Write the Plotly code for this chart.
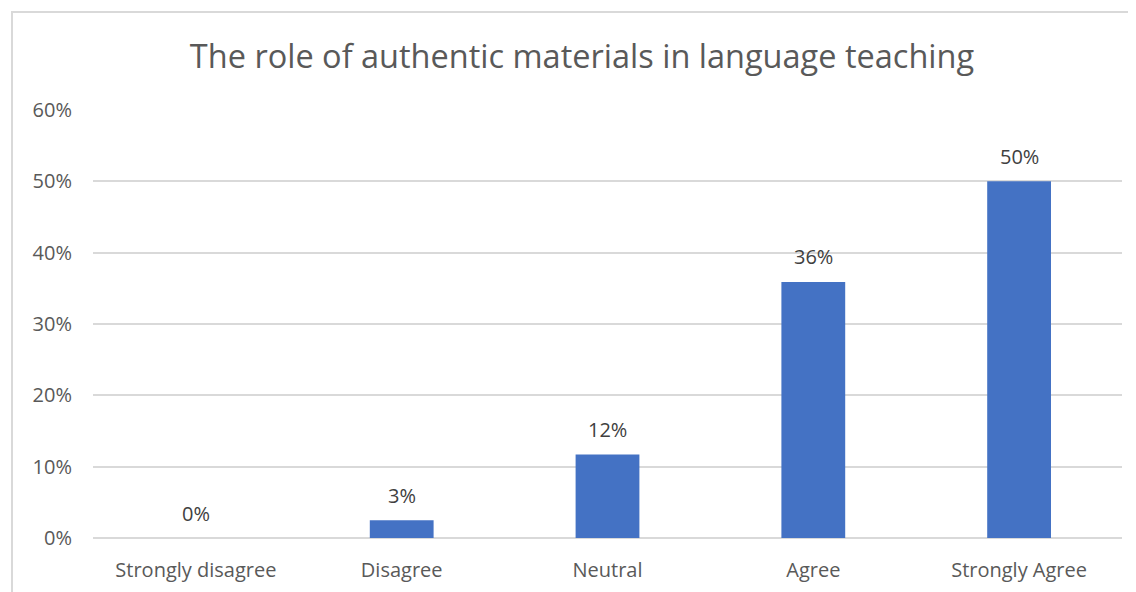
import plotly.graph_objects as go

categories = ["Strongly disagree", "Disagree", "Neutral", "Agree", "Strongly Agree"]
values = [0.0, 2.5, 11.7, 35.9, 50.0]
value_labels = ["0%", "3%", "12%", "36%", "50%"]
tick_vals = [0, 10, 20, 30, 40, 50, 60]
tick_text = ["0%", "10%", "20%", "30%", "40%", "50%", "60%"]

FONT = "Open Sans"
OFF = 8  # default page body margin

W, H = 1136 - OFF, 592 - OFF
L, R, T, B = 93 - OFF, 14, 110 - OFF, 54
pw, ph = W - L - R, H - T - B

fig = go.Figure()
fig.add_trace(go.Bar(
    x=categories, y=values,
    marker=dict(color="#4472C4", line=dict(width=0)),
    hoverinfo="skip",
))

annotations = [
    dict(x=c, y=v, xref="x", yref="y", text=t, showarrow=False,
         yanchor="middle", yshift=25,
         font=dict(family=FONT, size=20, color="#404040"))
    for c, v, t in zip(categories, values, value_labels)
]

fig.update_layout(
    width=W, height=H,
    margin=dict(l=L, r=R, t=T, b=B, autoexpand=False),
    paper_bgcolor="white", plot_bgcolor="white",
    bargap=0.69,
    showlegend=False,
    annotations=annotations,
    title=dict(text="The role of authentic materials in language teaching",
               x=(582 - 93) / pw, xref="paper", xanchor="center",
               y=1 - (57 - OFF) / H, yanchor="middle",
               font=dict(family=FONT, size=32.5, color="#595959")),
    xaxis=dict(showgrid=False, showline=False, zeroline=False, automargin=False,
               tickfont=dict(family=FONT, size=20, color="#595959"),
               ticks="", ticklabelstandoff=18),
    yaxis=dict(range=[0, 60], tickvals=tick_vals, ticktext=tick_text,
               automargin=False,
               showgrid=True, gridcolor="#D9D9D9", gridwidth=2,
               zeroline=True, zerolinecolor="#D9D9D9", zerolinewidth=2,
               showline=False, ticks="",
               tickfont=dict(family=FONT, size=20, color="#595959"),
               ticklabelstandoff=20),
    shapes=[dict(type="rect", xref="paper", yref="paper",
                 x0=(12 - 93) / pw, x1=(1146 - 93) / pw,
                 y0=-(B + 10) / ph, y1=(538 - 12) / ph,
                 line=dict(color="#D9D9D9", width=2), fillcolor="rgba(0,0,0,0)",
                 layer="below")],
)

fig.write_html("out.html")
